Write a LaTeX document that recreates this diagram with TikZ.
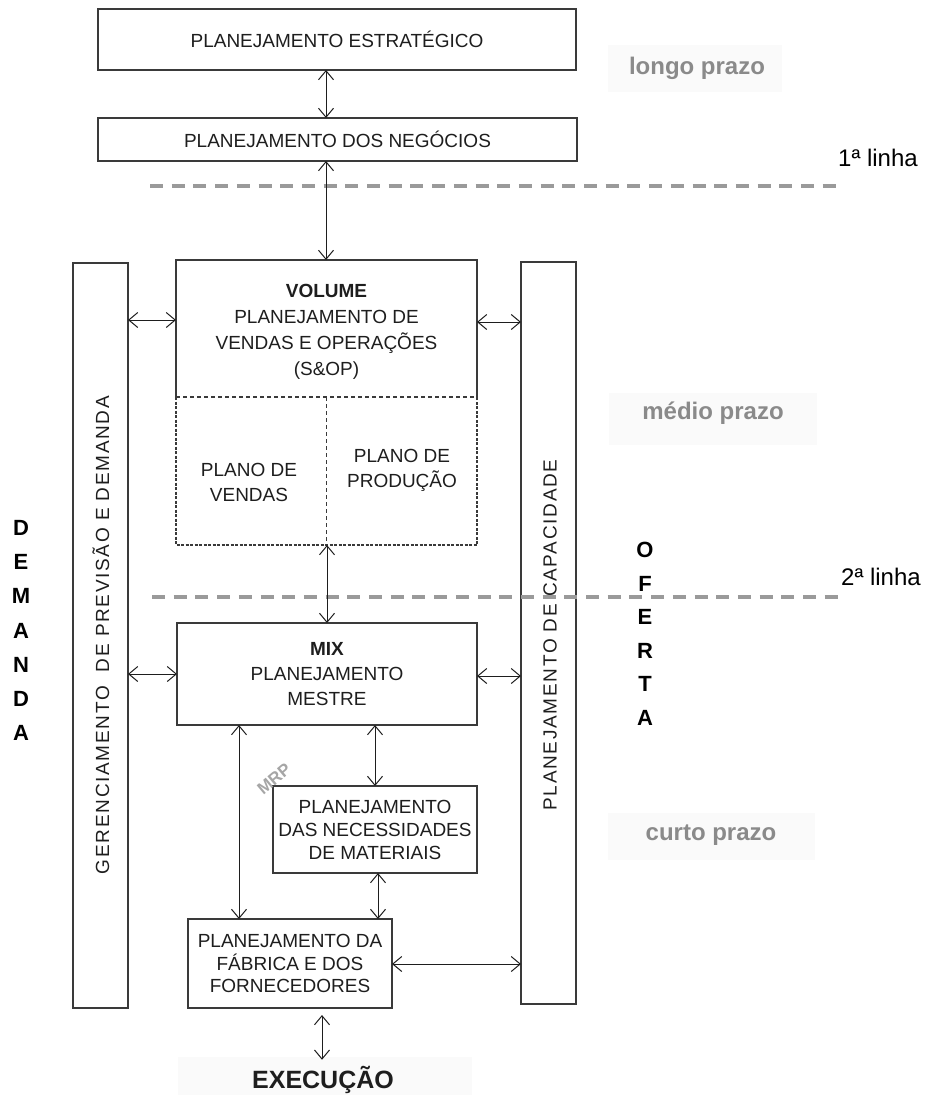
\documentclass[tikz,border=0pt]{standalone}
\usepackage{fontspec}
\setmainfont{Liberation Sans}
\usetikzlibrary{arrows.meta}
\definecolor{boxline}{HTML}{3A3A3A}
\definecolor{ink}{HTML}{1E1E1E}
\definecolor{dashgray}{HTML}{9A9A9A}
\definecolor{termgray}{HTML}{8A8A8A}
\definecolor{haze}{HTML}{FAFAFA}

\begin{document}
\begin{tikzpicture}[x=1pt,y=-1pt,
  box/.style={draw=boxline, line width=1.4pt, rectangle, inner sep=0pt, outer sep=0pt,
              fill=white, text=ink, align=center, font=\fontsize{19}{23.5}\selectfont},
  txt/.style={text=ink, align=center, inner sep=0pt},
  biarrow/.style={draw=ink, line width=1pt,
                  {Straight Barb[length=9pt,width=15pt]}-{Straight Barb[length=9pt,width=15pt]}},
  horizon/.style={draw=dashgray, line width=3.5pt, dash pattern=on 13pt off 8.7pt},
  term/.style={text=termgray, font=\bfseries\fontsize{24}{28}\selectfont},
  linelabel/.style={text=black, font=\fontsize{24}{28}\selectfont},
  bigletter/.style={text=black, font=\bfseries\fontsize{22}{26}\selectfont},
  vlabel/.style={rotate=90, text=ink, inner sep=0pt,
                 font=\fontsize{19}{23}\selectfont\addfontfeature{LetterSpace=9}},
]
\useasboundingbox (0,0) rectangle (927,1095);

% soft backdrops behind the horizon labels
\fill[haze] (608,45) rectangle (782,92);
\fill[haze] (609,393) rectangle (817,445);
\fill[haze] (608,813) rectangle (815,860);
\fill[haze] (178,1057) rectangle (472,1095);

% top-level planning boxes
\node[box, minimum width=478, minimum height=61] (strat) at (337,39.5) {PLANEJAMENTO ESTRATÉGICO};
\node[box, minimum width=479, minimum height=43] (neg) at (337.5,139.5) {PLANEJAMENTO DOS NEGÓCIOS};

% side columns: demand and capacity
\node[box, minimum width=55, minimum height=745] (gdem) at (100.5,635.5) {};
\node[vlabel] (gdemtext) at (101,635) {GERENCIAMENTO\ \ DE PREVISÃO E DEMANDA};
\node[box, minimum width=55, minimum height=742] (pcap) at (548.5,633) {};
\node[vlabel] (pcaptext) at (550,635) {PLANEJAMENTO DE CAPACIDADE};

% S&OP block: solid upper part, dashed lower part split in two plans
\node[box, draw=none, fill=none, minimum width=301, minimum height=285] (vol) at (326.5,402.5) {};
\coordinate (vdiv) at (0,397);
\draw[boxline, line width=1.4pt] (vol.west |- vdiv) -- (vol.north west) -- (vol.north east) -- (vol.east |- vdiv);
\draw[boxline, line width=1.6pt, dash pattern=on 3pt off 1.5pt]
  (vol.west |- vdiv) -- (vol.south west) -- (vol.south east) -- (vol.east |- vdiv);
\draw[boxline, line width=1.1pt, dash pattern=on 4pt off 3pt] (vol.west |- vdiv) -- (vol.east |- vdiv);
\draw[boxline, line width=1.5pt, dash pattern=on 4pt off 3pt] (vol.south |- vdiv) -- (vol.south);
\node[txt, font=\fontsize{19}{26}\selectfont] (voltext) at (326.5,332)
  {\textbf{VOLUME}\\PLANEJAMENTO DE\\VENDAS E OPERAÇÕES\\(S\&OP)};
\node[txt, font=\fontsize{19}{25}\selectfont] (pvendas) at (249,482) {PLANO DE\\VENDAS};
\node[txt, font=\fontsize{19}{25}\selectfont] (pprod) at (402,470) {PLANO DE\\PRODUÇÃO};

% master, material and plant planning
\node[box, minimum width=300, minimum height=102, font=\fontsize{19}{25}\selectfont] (mix) at (327,674)
  {\textbf{MIX}\\PLANEJAMENTO\\MESTRE};
\node[box, minimum width=204, minimum height=87, font=\fontsize{19}{23}\selectfont] (mrp) at (375,829.5)
  {PLANEJAMENTO\\DAS NECESSIDADES\\DE MATERIAIS};
\node[box, minimum width=204, minimum height=89, font=\fontsize{19}{22.5}\selectfont] (fab) at (290,963.5)
  {PLANEJAMENTO DA\\FÁBRICA E DOS\\FORNECEDORES};

% planning horizon lines
\coordinate (h1a) at (150,186);
\coordinate (h1b) at (837,186);
\coordinate (h2a) at (152,597);
\coordinate (h2b) at (838,597);
\draw[horizon] (h1a) -- (h1b);
\draw[horizon] (h2a) -- (h2b);

% horizon and side labels
\node[term] (longo) at (697,68) {longo prazo};
\node[term] (medio) at (713,413) {médio prazo};
\node[term] (curto) at (711,835) {curto prazo};
\node[linelabel] (linha1) at (878,158) {1ª linha};
\node[linelabel] (linha2) at (881,577) {2ª linha};

\foreach \ch [count=\i from 0] in {D,E,M,A,N,D,A}
  \node[bigletter] (dem\i) at (21,528+34.2*\i) {\ch};
\foreach \ch [count=\i from 0] in {O,F,E,R,T,A}
  \node[bigletter] (ofe\i) at (645,550+33.6*\i) {\ch};

\node[text=ink, font=\bfseries\fontsize{25}{30}\selectfont] (exec) at (323,1080) {EXECUÇÃO};

% connectors
\coordinate (cx1) at (326,0);
\coordinate (cx2) at (327,0);
\coordinate (cx3) at (239,0);
\coordinate (cx4) at (375,0);
\coordinate (cx5) at (378,0);
\coordinate (cx6) at (322,0);
\coordinate (cy1) at (0,320);
\coordinate (cy2) at (0,322);
\coordinate (cy3) at (0,674);
\coordinate (cy4) at (0,676);
\coordinate (cy5) at (0,964);

\draw[biarrow] (strat.south -| cx1) -- (neg.north -| cx1);
\draw[biarrow] (neg.south -| cx1) -- (vol.north -| cx1);
\draw[biarrow] (vol.south -| cx2) -- (mix.north -| cx2);
\draw[biarrow] (gdem.east |- cy1) -- (vol.west |- cy1);
\draw[biarrow] (vol.east |- cy2) -- (pcap.west |- cy2);
\draw[biarrow] (gdem.east |- cy3) -- (mix.west |- cy3);
\draw[biarrow] (mix.east |- cy4) -- (pcap.west |- cy4);
\draw[biarrow] (mix.south -| cx3) -- (fab.north -| cx3);
\draw[biarrow] (mix.south -| cx4) -- (mrp.north -| cx4);
\draw[biarrow] (mrp.south -| cx5) -- (fab.north -| cx5);
\draw[biarrow] (fab.east |- cy5) -- (pcap.west |- cy5);
\draw[biarrow, shorten <=7pt, shorten >=3pt] (fab.south -| cx6) -- (exec.north -| cx6);

% tilted MRP tag on the corner of the materials box
\node[rotate=40, text=gray!70, inner sep=0pt, font=\bfseries\fontsize{17}{20}\selectfont] (mrplabel) at (274,779) {MRP};
\end{tikzpicture}
\end{document}
